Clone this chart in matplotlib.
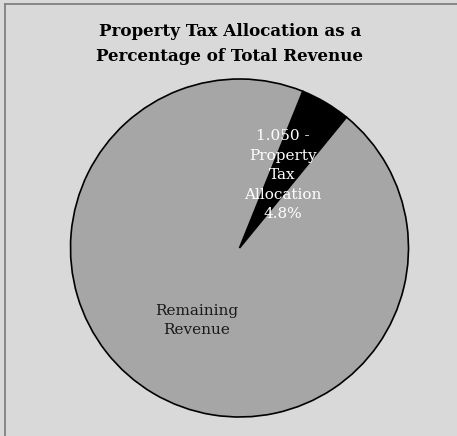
import matplotlib
matplotlib.use("Agg")
import matplotlib.pyplot as plt
from matplotlib.lines import Line2D

# slice names (pre-wrapped) and their share of total revenue, in percent
categories = ["1.050 -\nProperty\nTax\nAllocation", "Remaining\nRevenue"]
shares = [4.8, 95.2]
show_pct = [True, False]

slice_colors = ["#000000", "#a6a6a6"]
label_colors = ["white", "#1a1a1a"]


def main():
    W, H = 457, 436
    fig = plt.figure(figsize=(W / 100, H / 100), dpi=100)
    fig.patch.set_facecolor("#d9d9d9")

    # chart-area border: only the top and left edges fall inside the frame
    bx, by = 4.5 / W, 1 - 4 / H
    fig.add_artist(Line2D([bx, 1.0], [by, by], transform=fig.transFigure,
                          color="#808080", linewidth=1.3))
    fig.add_artist(Line2D([bx, bx], [0.0, by], transform=fig.transFigure,
                          color="#808080", linewidth=1.3))

    cx, cy, r = 239.5, 248.0, 169.0
    ax = fig.add_axes([(cx - r) / W, (H - cy - r) / H, 2 * r / W, 2 * r / H])
    ax.set_facecolor("none")

    labels = []
    for name, val, pct in zip(categories, shares, show_pct):
        labels.append(f"{name}\n{val:.1f}%" if pct else name)

    wedges, texts = ax.pie(shares, labels=labels, colors=slice_colors,
                           startangle=68, counterclock=False,
                           labeldistance=0.5,
                           wedgeprops=dict(edgecolor="black", linewidth=1.2),
                           textprops=dict(family="DejaVu Serif", fontsize=11))
    for t, c in zip(texts, label_colors):
        t.set_color(c)
        t.set_ha("center")
        t.set_va("center")
        t.set_multialignment("center")
        t.set_linespacing(1.5)
    ax.set_xlim(-1, 1)
    ax.set_ylim(-1, 1)
    ax.set_aspect("equal")

    fig.text(230 / W, 1 - 23 / H,
             "Property Tax Allocation as a\nPercentage of Total Revenue",
             ha="center", va="top", family="DejaVu Serif", fontweight="bold",
             fontsize=12.1, linespacing=1.6)

    fig.savefig("out.png", dpi=100, facecolor=fig.get_facecolor())


if __name__ == "__main__":
    main()
